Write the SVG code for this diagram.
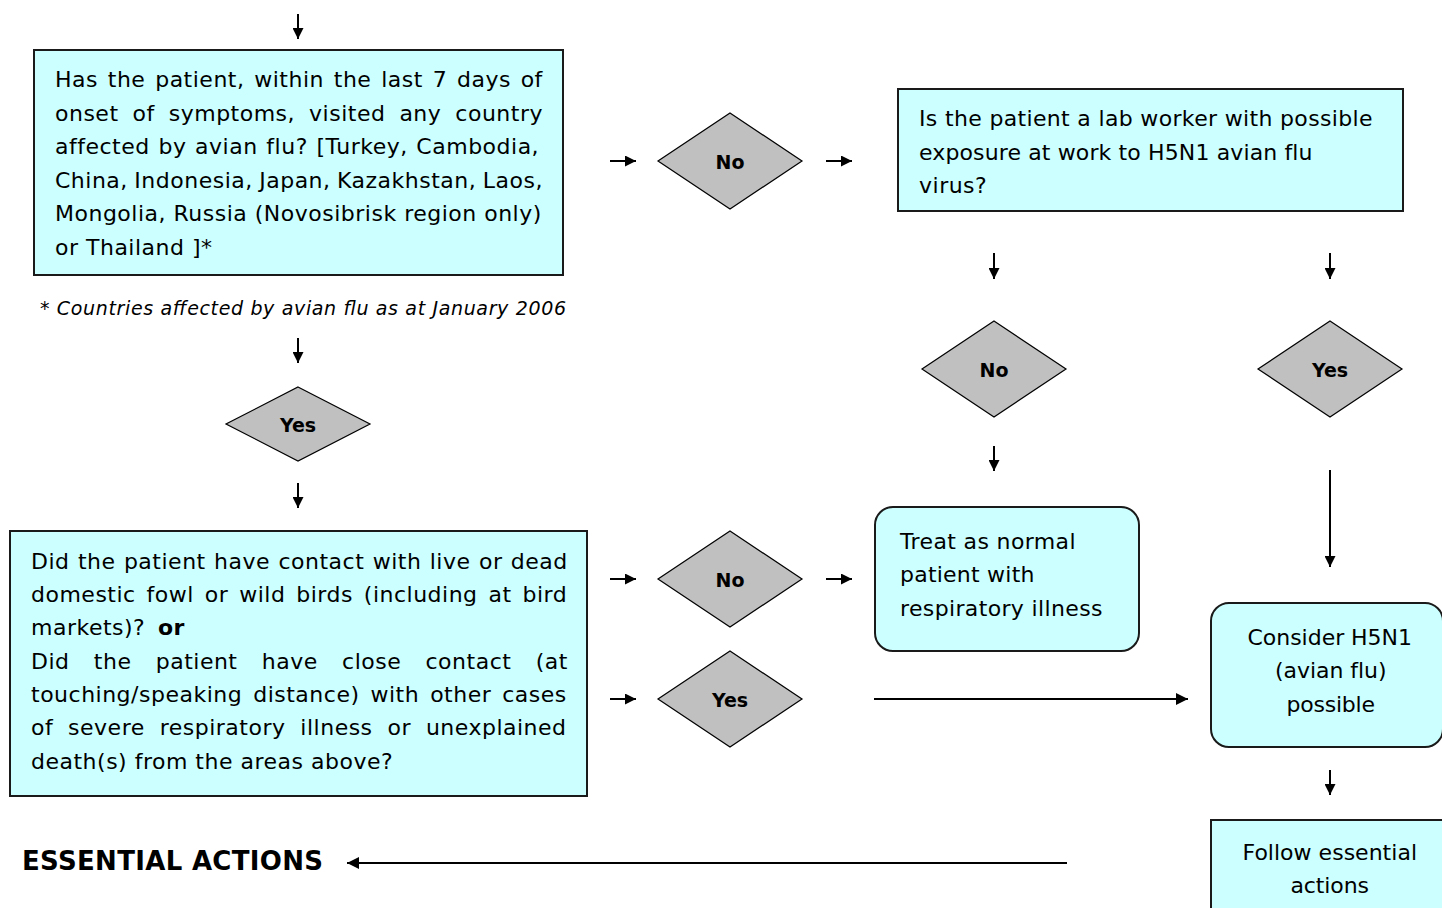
<svg xmlns="http://www.w3.org/2000/svg" width="1442" height="908" viewBox="0 0 1442 908">
<style>
.box{fill:#CCFFFF;stroke:#1a1a1a;stroke-width:2}
.dia{fill:#C0C0C0;stroke:#000;stroke-width:1.2}
.t{font-family:"DejaVu Sans","Liberation Sans",sans-serif;font-size:22px;letter-spacing:0.5px;fill:#000}
.d{font-family:"DejaVu Sans","Liberation Sans",sans-serif;font-size:19px;font-weight:bold;fill:#000;text-anchor:middle}
.c{text-anchor:middle}
.ln{stroke:#000;stroke-width:2;fill:none}
</style>
<defs>
<marker id="ah" viewBox="0 0 10 10" refX="10" refY="5" markerWidth="12" markerHeight="11" markerUnits="userSpaceOnUse" orient="auto"><path d="M0,0 L10,5 L0,10 z" fill="#000"/></marker>
<marker id="ahL" viewBox="0 0 10 10" refX="10" refY="5" markerWidth="14" markerHeight="12" markerUnits="userSpaceOnUse" orient="auto"><path d="M0,0 L10,5 L0,10 z" fill="#000"/></marker>
</defs>
<rect width="1442" height="908" fill="#fff"/>

<g id="connectors">
<line class="ln" x1="298" y1="14" x2="298" y2="39" marker-end="url(#ah)"/>
<line class="ln" x1="298" y1="338" x2="298" y2="363" marker-end="url(#ah)"/>
<line class="ln" x1="298" y1="483" x2="298" y2="508" marker-end="url(#ah)"/>
<line class="ln" x1="610" y1="161" x2="636" y2="161" marker-end="url(#ah)"/>
<line class="ln" x1="826" y1="161" x2="852" y2="161" marker-end="url(#ah)"/>
<line class="ln" x1="994" y1="253" x2="994" y2="279" marker-end="url(#ah)"/>
<line class="ln" x1="1330" y1="253" x2="1330" y2="279" marker-end="url(#ah)"/>
<line class="ln" x1="994" y1="446" x2="994" y2="471" marker-end="url(#ah)"/>
<line class="ln" x1="1330" y1="470" x2="1330" y2="567" marker-end="url(#ah)"/>
<line class="ln" x1="610" y1="579" x2="636" y2="579" marker-end="url(#ah)"/>
<line class="ln" x1="826" y1="579" x2="852" y2="579" marker-end="url(#ah)"/>
<line class="ln" x1="610" y1="699" x2="636" y2="699" marker-end="url(#ah)"/>
<line class="ln" x1="874" y1="699" x2="1188" y2="699" marker-end="url(#ahL)"/>
<line class="ln" x1="1330" y1="770" x2="1330" y2="795" marker-end="url(#ah)"/>
<line class="ln" x1="1067" y1="863" x2="347" y2="863" marker-end="url(#ahL)"/>
</g>

<g id="q1">
<rect class="box" x="34" y="50" width="529" height="225"/>
<text class="t" x="55" y="87" style="word-spacing:2.3px">Has the patient, within the last 7 days of</text>
<text class="t" x="55" y="121" style="word-spacing:6.5px">onset of symptoms, visited any country</text>
<text class="t" x="55" y="154" style="word-spacing:1.2px">affected by avian flu? [Turkey, Cambodia,</text>
<text class="t" x="55" y="188" style="word-spacing:-1px">China, Indonesia, Japan, Kazakhstan, Laos,</text>
<text class="t" x="55" y="221" style="word-spacing:0px">Mongolia, Russia (Novosibrisk region only)</text>
<text class="t" x="55" y="255">or Thailand ]*</text>
</g>

<g id="footnote">
<text class="t" x="40" y="315" style="font-size:19px;font-style:italic;letter-spacing:0" textLength="526" lengthAdjust="spacing">* Countries affected by avian flu as at January 2006</text>
</g>

<g id="d-yes1">
<polygon class="dia" points="298,387 370,424 298,461 226,424"/>
<text class="d" x="298" y="432">Yes</text>
</g>

<g id="q2">
<rect class="box" x="10" y="531" width="577" height="265"/>
<text class="t" x="31" y="569" style="word-spacing:0.9px">Did the patient have contact with live or dead</text>
<text class="t" x="31" y="602" style="word-spacing:3.4px">domestic fowl or wild birds (including at bird</text>
<text class="t" x="31" y="635">markets)?<tspan x="158" font-weight="bold">or</tspan></text>
<text class="t" x="31" y="669" style="word-spacing:16.8px">Did the patient have close contact (at</text>
<text class="t" x="31" y="702" style="word-spacing:3.5px">touching/speaking distance) with other cases</text>
<text class="t" x="31" y="735" style="word-spacing:7.4px">of severe respiratory illness or unexplained</text>
<text class="t" x="31" y="769">death(s) from the areas above?</text>
</g>

<g id="d-no1">
<polygon class="dia" points="730,113 802,161 730,209 658,161"/>
<text class="d" x="730" y="169">No</text>
</g>

<g id="q3">
<rect class="box" x="898" y="89" width="505" height="122"/>
<text class="t" x="919" y="126" textLength="454" lengthAdjust="spacing">Is the patient a lab worker with possible</text>
<text class="t" x="919" y="160" textLength="394" lengthAdjust="spacing">exposure at work to H5N1 avian flu</text>
<text class="t" x="919" y="193">virus?</text>
</g>

<g id="d-no2">
<polygon class="dia" points="994,321 1066,369 994,417 922,369"/>
<text class="d" x="994" y="377">No</text>
</g>

<g id="d-yes2">
<polygon class="dia" points="1330,321 1402,369 1330,417 1258,369"/>
<text class="d" x="1330" y="377">Yes</text>
</g>

<g id="treat">
<rect class="box" x="875" y="507" width="264" height="144" rx="18" ry="18"/>
<text class="t" x="900" y="549" textLength="176" lengthAdjust="spacing">Treat as normal</text>
<text class="t" x="900" y="582" textLength="135" lengthAdjust="spacing">patient with</text>
<text class="t" x="900" y="616" textLength="203" lengthAdjust="spacing">respiratory illness</text>
</g>

<g id="d-no3">
<polygon class="dia" points="730,531 802,579 730,627 658,579"/>
<text class="d" x="730" y="587">No</text>
</g>

<g id="d-yes3">
<polygon class="dia" points="730,651 802,699 730,747 658,699"/>
<text class="d" x="730" y="707">Yes</text>
</g>

<g id="consider">
<rect class="box" x="1211" y="603" width="232" height="144" rx="18" ry="18"/>
<text class="t c" x="1330" y="645" textLength="165" lengthAdjust="spacing">Consider H5N1</text>
<text class="t c" x="1331" y="678" textLength="112" lengthAdjust="spacing">(avian flu)</text>
<text class="t c" x="1331" y="712" textLength="89" lengthAdjust="spacing">possible</text>
</g>

<g id="follow">
<rect class="box" x="1211" y="820" width="240" height="100"/>
<text class="t c" x="1330" y="860" textLength="175" lengthAdjust="spacing">Follow essential</text>
<text class="t c" x="1330" y="893" textLength="79" lengthAdjust="spacing">actions</text>
</g>

<g id="essential">
<text class="t" x="22" y="870" style="font-size:26px;font-weight:bold;letter-spacing:0" textLength="301" lengthAdjust="spacing">ESSENTIAL ACTIONS</text>
</g>
</svg>
